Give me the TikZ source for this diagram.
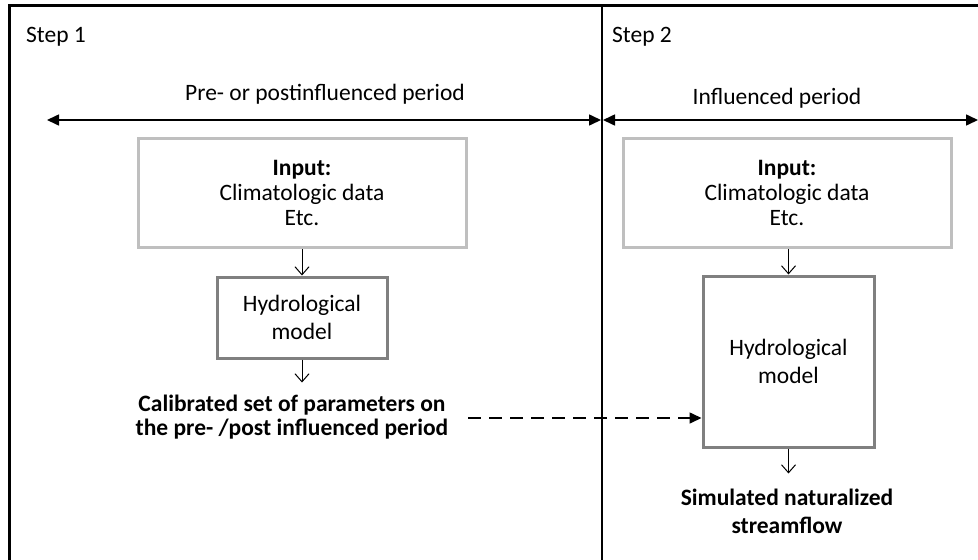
\documentclass[tikz,border=0pt]{standalone}
\usepackage{fontspec}
\setmainfont{Carlito}
\usetikzlibrary{arrows.meta}
\tikzset{headtri/.tip={Triangle[length=12pt,width=11pt]}}
\begin{document}
\begin{tikzpicture}[x=1pt,y=-1pt,
  txt/.style={font=\fontsize{23.5}{25}\selectfont, align=center, inner sep=0pt},
  inbox/.style={txt, draw=black!25, line width=3pt, minimum width=328pt, minimum height=109pt},
  hydbox/.style={txt, font=\fontsize{23.5}{28}\selectfont, draw=black!50, line width=3pt},
  flow/.style={-{Straight Barb[length=8pt,width=14pt]}, line width=1pt},
  period/.style={headtri-headtri, line width=1.6pt}]
\useasboundingbox (0,0) rectangle (978,560);
\fill[white] (0,0) rectangle (978,560);
% frame
\draw[line width=3.5pt] (9.5,560) -- (9.5,5.5) -- (978,5.5);
\draw[line width=1.6pt] (602,5.5) -- (602,560);
% steps
\node[txt, anchor=base west] (s1) at (26,42) {Step 1};
\node[txt, anchor=base west] (s2) at (612,42) {Step 2};
% periods
\node[txt, anchor=base] (p1) at (325,100) {Pre- or postinfluenced period};
\node[txt, anchor=base] (p2) at (777,104) {Influenced period};
\coordinate (a1l) at (47,120);
\coordinate (a1r) at (601,120);
\coordinate (a2l) at (603,120);
\coordinate (a2r) at (978,120);
\draw[period] (a1l) -- (a1r);
\draw[period] (a2l) -- (a2r);
% left column
\node[inbox] (in1) at (302,193) {\textbf{Input:}\\Climatologic data\\Etc.};
\node[hydbox, minimum width=170pt, minimum height=81pt] (h1) at (302,317.5) {Hydrological\\model};
\node[txt, font=\fontsize{23.5}{24}\selectfont\bfseries] (cal) at (292,417) {Calibrated set of parameters on\\the pre- /post influenced period};
\draw[flow] (in1.south -| h1.north) -- (h1.north);
\draw[flow] (h1.south) -- ++(0,23) coordinate (c1);
% right column
\node[inbox] (in2) at (787,193) {\textbf{Input:}\\Climatologic data\\Etc.};
\node[hydbox, minimum width=171pt, minimum height=171pt] (h2) at (788.5,361.5) {Hydrological\\model};
\node[txt, font=\fontsize{23.5}{28}\selectfont\bfseries] (sim) at (787,511) {Simulated naturalized\\streamflow};
\draw[flow] (in2.south -| h2.north) -- (h2.north);
\draw[flow] (h2.south) -- ++(0,25) coordinate (c2);
% dashed
\coordinate (d0) at (468,418);
\draw[dash pattern=on 13pt off 8pt, line width=1.6pt, -headtri] (d0) -- (d0 -| h2.west);
\end{tikzpicture}
\end{document}
